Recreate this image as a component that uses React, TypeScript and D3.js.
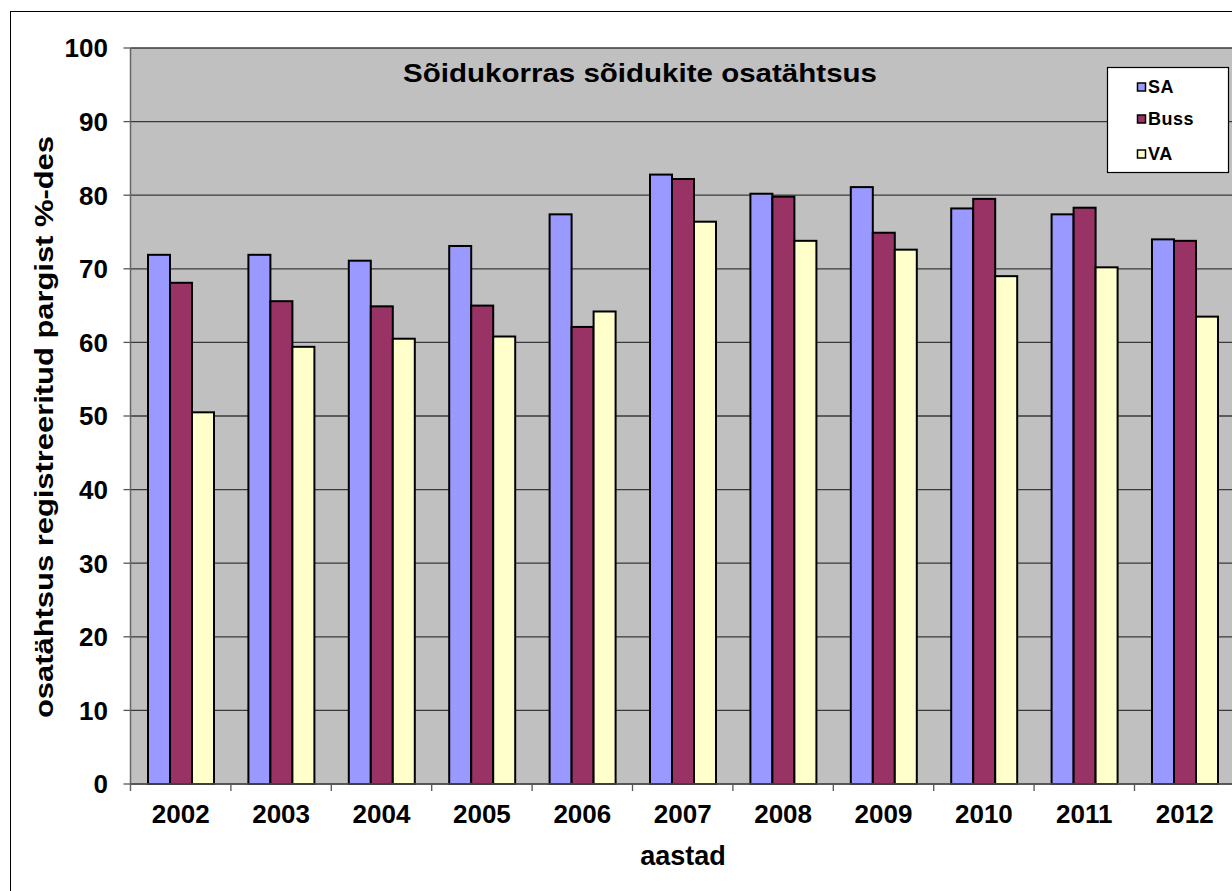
import React from "react";
import * as d3 from "d3";

const years = ["2002","2003","2004","2005","2006","2007","2008","2009","2010","2011","2012"];
const seriesNames = ["SA", "Buss", "VA"];
const saValues = [71.9, 71.9, 71.1, 73.1, 77.4, 82.8, 80.2, 81.1, 78.2, 77.4, 74.0];
const bussValues = [68.1, 65.6, 64.9, 65.0, 62.1, 82.2, 79.8, 74.9, 79.5, 78.3, 73.8];
const vaValues = [50.5, 59.4, 60.5, 60.8, 64.2, 76.4, 73.8, 72.6, 69.0, 70.2, 63.5];
const colors = ["#9999FF", "#993366", "#FFFFCC"];
const yTicks = [0, 10, 20, 30, 40, 50, 60, 70, 80, 90, 100];
const title = "Sõidukorras sõidukite osatähtsus";
const yLabel = "osatähtsus registreeritud pargist %-des";
const xLabel = "aastad";

export default function App() {
  const W = 1232, H = 891;
  const left = 130.5, top = 48, bottom = 784;
  const step = 100.4;
  const right = left + step * years.length;
  const x = d3.scaleBand<string>().domain(years).range([left, right]).paddingInner(0).paddingOuter(0);
  const inner = d3.scaleBand<string>().domain(seriesNames).range([0, 66]);
  const y = d3.scaleLinear().domain([0, 100]).range([bottom, top]);
  const data = [saValues, bussValues, vaValues];
  const font = "'Liberation Sans', Arial, sans-serif";
  const legendY = [87, 119, 154];

  return (
    <svg width={W} height={H} style={{ position: "absolute", left: 0, top: 0, display: "block" }} fontFamily={font}>
      <rect x={0} y={0} width={W} height={H} fill="#fff" />
      <rect x={10.5} y={11.5} width={1250} height={900} fill="none" stroke="#000" strokeWidth={1} />
      <rect x={left} y={top} width={right - left} height={bottom - top} fill="#C0C0C0" />
      {yTicks.map((t) => (
        <g key={t}>
          <line x1={left} x2={right} y1={y(t)} y2={y(t)} stroke="#3a3a3a" strokeWidth={1.3} />
          <line x1={left - 7} x2={left} y1={y(t)} y2={y(t)} stroke="#555" strokeWidth={1.3} />
          <text x={108} y={y(t)} dy="0.36em" textAnchor="end" fontSize={26} fontWeight="bold">{t}</text>
        </g>
      ))}
      <line x1={left} x2={left} y1={top} y2={bottom + 7} stroke="#666" strokeWidth={1.5} />
      {years.map((yr, i) => (
        <g key={yr}>
          <line x1={x(yr)! + step} x2={x(yr)! + step} y1={bottom} y2={bottom + 7} stroke="#555" strokeWidth={1.3} />
          <text x={x(yr)! + step / 2} y={823} textAnchor="middle" fontSize={26} fontWeight="bold">{yr}</text>
          {data.map((vals, s) => (
            <rect
              key={s}
              x={x(yr)! + 17.5 + inner(seriesNames[s])!}
              y={y(vals[i])}
              width={inner.bandwidth()}
              height={bottom - y(vals[i])}
              fill={colors[s]}
              stroke="#000"
              strokeWidth={2}
            />
          ))}
        </g>
      ))}
      <line x1={left} x2={right} y1={bottom} y2={bottom} stroke="#555" strokeWidth={1.5} />
      <text x={640} y={82} textAnchor="middle" fontSize={26} fontWeight="bold" textLength={474} lengthAdjust="spacingAndGlyphs">{title}</text>
      <text transform={`translate(53, 427) rotate(-90)`} textAnchor="middle" fontSize={26} fontWeight="bold" textLength={582} lengthAdjust="spacingAndGlyphs">{yLabel}</text>
      <text x={683} y={865} textAnchor="middle" fontSize={27} fontWeight="bold">{xLabel}</text>
      <rect x={1107.5} y={67.5} width={121} height={105} fill="#fff" stroke="#000" strokeWidth={1.2} />
      {seriesNames.map((n, s) => (
        <g key={n}>
          <rect x={1137.5} y={legendY[s] - 4} width={8} height={8} fill={colors[s]} stroke="#000" strokeWidth={1.5} />
          <text x={1148} y={legendY[s]} dy="0.36em" fontSize={18} fontWeight="bold" letterSpacing={0.5}>{n}</text>
        </g>
      ))}
    </svg>
  );
}
